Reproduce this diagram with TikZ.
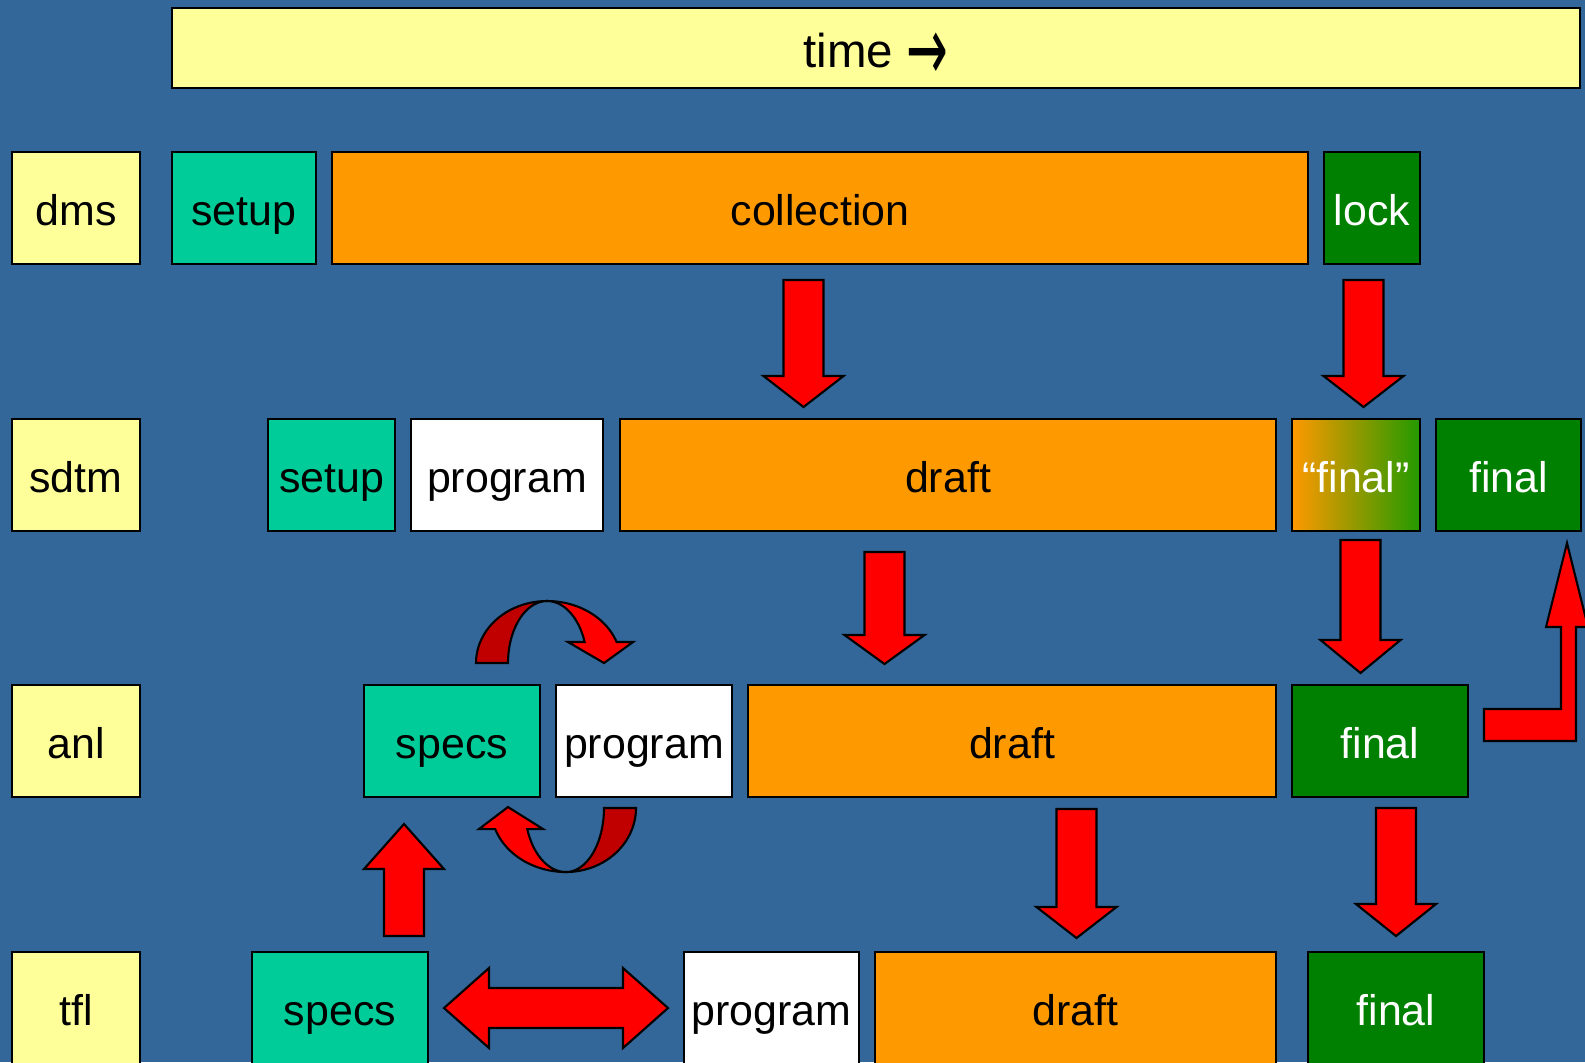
\documentclass[tikz,border=0pt]{standalone}
\usepackage{graphicx}
\usepackage{fontspec}
\setmainfont{Liberation Sans}
\newfontfamily\arrowfont{DejaVu Sans}
\definecolor{slate}{HTML}{336699}
\definecolor{paper}{HTML}{FFFF99}
\definecolor{mint}{HTML}{00CC99}
\definecolor{amber}{HTML}{FF9900}
\definecolor{leaf}{HTML}{008000}
\definecolor{sprout}{HTML}{229A00}
\definecolor{hot}{HTML}{FF0000}
\definecolor{deep}{HTML}{C00000}

% straight block arrow: x, tail y, head-base y, tip y
\newcommand\vblock[4]{%
  \draw[blk] (#1-20,#2) -- (#1+20,#2) -- (#1+20,#3) -- (#1+40,#3)
    -- (#1,#4) -- (#1-40,#3) -- (#1-20,#3) -- cycle;}

\begin{document}
\begin{tikzpicture}[
  x=0.01cm, y=-0.01cm,
  box/.style={draw=black, line width=0.6pt, minimum height=1.12cm, inner sep=1pt,
              text height=0.44cm, text depth=0.10cm,
              font=\fontsize{12.2}{14}\selectfont},
  lbl/.style={box, fill=paper, minimum width=1.28cm},
  setupbox/.style={box, fill=mint},
  prog/.style={box, fill=white},
  work/.style={box, fill=amber},
  done/.style={box, fill=leaf, text=white},
  blk/.style={draw=black, line width=0.6pt, fill=hot, line join=miter},
]
\useasboundingbox (0,0) rectangle (1585,1062);
\clip (0,0) rectangle (1585,1062);
\fill[slate] (0,0) rectangle (1585,1062);

% ---- time bar and row labels ------------------------------------------------
\node[box, fill=paper, minimum width=14.08cm, minimum height=0.8cm,
      text height=0.48cm, font=\fontsize{13.5}{16}\selectfont] (time) at (876,48)
  {time \raisebox{-0.13cm}{\scalebox{1.05}[1.9]{\arrowfont →}}};

\node[lbl] (dms)  at (76,208)  {dms};
\node[lbl] (sdtm) at (76,475)  {sdtm};
\node[lbl] (anl)  at (76,741)  {anl};
\node[lbl] (tfl)  at (76,1008) {tfl};

% ---- dms ----------------------------------------------------------------------
\node[setupbox, minimum width=1.44cm] (dmssetup) at (244,208) {setup};
\node[work, minimum width=9.76cm]     (collect)  at (820,208) {collection};
\node[done, minimum width=0.96cm]     (lock)     at (1372,208) {lock};

% ---- sdtm ---------------------------------------------------------------------
\node[setupbox, minimum width=1.27cm] (sdtmsetup) at (331.5,475) {setup};
\node[prog, minimum width=1.92cm]     (sdtmprog)  at (507,475) {program};
\node[work, minimum width=6.56cm]     (sdtmdraft) at (948,475) {draft};
\node[box, left color=amber, right color=sprout, text=white,
      minimum width=1.28cm]           (sdtmquote) at (1356,475) {“final”};
\node[done, minimum width=1.45cm]     (sdtmfinal) at (1508.5,475) {final};

% ---- anl ----------------------------------------------------------------------
\node[setupbox, minimum width=1.76cm] (anlspecs) at (452,741) {specs};
\node[prog, minimum width=1.76cm]     (anlprog)  at (644,741) {program};
\node[work, minimum width=5.28cm]     (anldraft) at (1012,741) {draft};
\node[done, minimum width=1.76cm]     (anlfinal) at (1380,741) {final};

% ---- tfl ----------------------------------------------------------------------
\node[setupbox, minimum width=1.76cm] (tflspecs) at (340,1008) {specs};
\node[prog, minimum width=1.75cm]     (tflprog)  at (771.5,1008) {program};
\node[work, minimum width=4.01cm]     (tfldraft) at (1075.5,1008) {draft};
\node[done, minimum width=1.76cm]     (tflfinal) at (1396,1008) {final};

% ---- hand-over arrows -----------------------------------------------------------
\vblock{803.5}{280}{376}{407}
\vblock{1363.5}{280}{376}{407}
\vblock{884.5}{552}{635}{664}
\vblock{1360.5}{540}{640}{673}
\vblock{1076.5}{809}{907}{938}
\vblock{1396}{808}{904}{936}
\vblock{404}{936}{869}{824}

% specs <-> program
\draw[blk] (444,1008) -- (489,968) -- (489,988) -- (623,988) -- (623,968)
  -- (668,1008) -- (623,1048) -- (623,1028) -- (489,1028) -- (489,1048) -- cycle;

% anl final back up to sdtm final
\draw[blk] (1484,709) -- (1561,709) -- (1561,627) -- (1546,627) -- (1567,543)
  -- (1588,627) -- (1576,627) -- (1576,741) -- (1484,741) -- cycle;

% loop over specs / program: upper half
\draw[blk, fill=deep] plot[domain=180:270, samples=24] ({547+71*cos(\x)},{663+62*sin(\x)})
  -- plot[domain=270:180, samples=24] ({547+39*cos(\x)},{663+62*sin(\x)}) -- cycle;
\draw[blk] plot[domain=270:340.2, samples=24] ({547+74*cos(\x)},{663+62*sin(\x)})
  -- (633,642) -- (604,663) -- (568,642)
  -- plot[domain=340.2:270, samples=24] ({547+40*cos(\x)},{663+62*sin(\x)}) -- cycle;

% lower half
\draw[blk, fill=deep] plot[domain=0:90, samples=24] ({566+70*cos(\x)},{808+64*sin(\x)})
  -- plot[domain=90:0, samples=24] ({566+38*cos(\x)},{808+64*sin(\x)}) -- cycle;
\draw[blk] plot[domain=90:160.8, samples=24] ({566+75*cos(\x)},{808+64*sin(\x)})
  -- (479,829) -- (508,807) -- (543,829)
  -- plot[domain=160.8:90, samples=24] ({566+41*cos(\x)},{808+64*sin(\x)}) -- cycle;

\end{tikzpicture}
\end{document}
